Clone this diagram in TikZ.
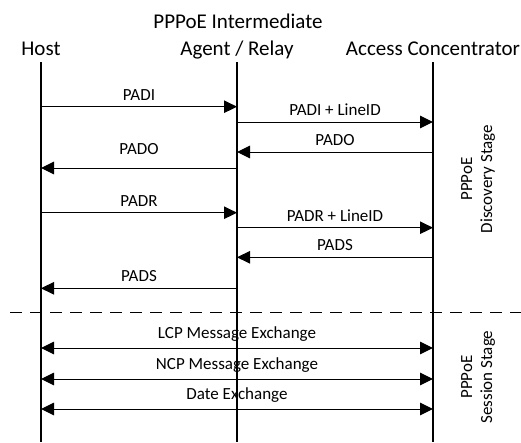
\documentclass[tikz,border=0pt]{standalone}
\usepackage{fontspec}
\setmainfont{Carlito}
\usetikzlibrary{arrows.meta}

\begin{document}
\begin{tikzpicture}[x=1pt, y=-1pt,
    header/.style={anchor=base, inner sep=0pt, font=\fontsize{21}{24}\selectfont},
    lifeline/.style={line width=1.1pt},
    msg/.style={-{Triangle[length=13pt, width=12.5pt]}, line width=1pt},
    exch/.style={{Triangle[length=13pt, width=12.5pt]}-{Triangle[length=13pt, width=12.5pt]}, line width=1pt},
    msglabel/.style={above=2.5pt, font=\fontsize{17}{20}\selectfont},
    stagelabel/.style={rotate=90, align=center, font=\fontsize{17}{20}\selectfont},
    separator/.style={dashed, dash pattern=on 12pt off 8pt, line width=1pt}]
    \useasboundingbox (0,0) rectangle (521,442);

    % Participants
    \node[header] (host) at (41,55) {Host};
    \node[header] (relaytop) at (238,28) {PPPoE Intermediate};
    \node[header] (relay) at (237,55) {Agent / Relay};
    \node[header] (ac) at (433,55) {Access Concentrator};

    % Lifelines
    \draw[lifeline] ([yshift=-7pt]host.base) -- (host |- 0,442);
    \draw[lifeline] ([yshift=-7pt]relay.base) -- (relay |- 0,442);
    \draw[lifeline] ([yshift=-7pt]ac.base) -- (ac |- 0,442);

    % Discovery stage
    \draw[msg] (host |- 0,106.7) -- node[msglabel]{PADI} (relay |- 0,106.7);
    \draw[msg] (relay |- 0,122) -- node[msglabel]{PADI + LineID} (ac |- 0,122);
    \draw[msg] (ac |- 0,152) -- node[msglabel]{PADO} (relay |- 0,152);
    \draw[msg] (relay |- 0,168) -- node[msglabel, above=7pt]{PADO} (host |- 0,168);
    \draw[msg] (host |- 0,212.7) -- node[msglabel]{PADR} (relay |- 0,212.7);
    \draw[msg] (relay |- 0,227.7) -- node[msglabel]{PADR + LineID} (ac |- 0,227.7);
    \draw[msg] (ac |- 0,257.3) -- node[msglabel]{PADS} (relay |- 0,257.3);
    \draw[msg] (relay |- 0,288.3) -- node[msglabel]{PADS} (host |- 0,288.3);

    % Stage separator
    \coordinate (sepleft) at (10,312);
    \coordinate (sepright) at (521,312);
    \draw[separator] (sepleft) -- (sepright);

    % Session stage
    \draw[exch] (host |- 0,348) -- node[msglabel]{LCP Message Exchange} (ac |- 0,348);
    \draw[exch] (host |- 0,379) -- node[msglabel]{NCP Message Exchange} (ac |- 0,379);
    \draw[exch] (host |- 0,409) -- node[msglabel]{Date Exchange} (ac |- 0,409);

    % Stage names
    \node[stagelabel] (discovery) at (478,179) {PPPoE\\Discovery Stage};
    \node[stagelabel] (session) at (478,377) {PPPoE\\Session Stage};
\end{tikzpicture}
\end{document}
